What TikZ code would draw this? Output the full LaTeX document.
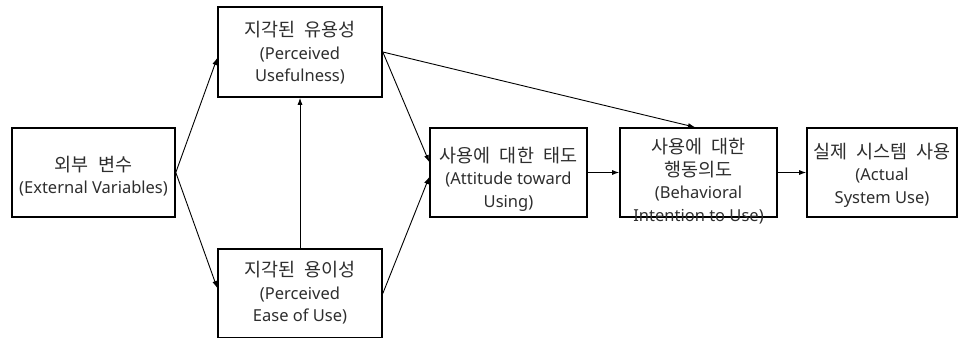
\documentclass[tikz,border=0pt]{standalone}
\usepackage{fontspec}
\setmainfont{Noto Sans}
\newfontfamily\krfont{Noto Sans CJK KR}
\usetikzlibrary{arrows.meta}
\newcommand\kr[1]{{\krfont\fontsize{18.5}{22.5}\selectfont\spaceskip=0.5em\relax #1}}
\tikzset{
  boxnode/.style={draw=black, line width=1.6pt, inner sep=0pt, fill=white},
  txt/.style={align=center, inner sep=0pt, text=black!82, font=\fontsize{16.5}{22.5}\selectfont},
  conn/.style={line width=0.9pt, -{Latex[length=7pt,width=5pt]}}
}
\begin{document}
\begin{tikzpicture}[x=1pt,y=-1pt]
\useasboundingbox (0,0) rectangle (960,337);
% boxes
\node[boxnode, minimum width=163pt, minimum height=89pt] (ext) at (93.5,172.5) {};
\node[boxnode, minimum width=164pt, minimum height=90pt] (pu) at (300,52) {};
\node[boxnode, minimum width=164pt, minimum height=89pt] (peou) at (300,293.5) {};
\node[boxnode, minimum width=157pt, minimum height=89pt] (atu) at (508.5,172.5) {};
\node[boxnode, minimum width=157pt, minimum height=89pt] (bi) at (698.5,172.5) {};
\node[boxnode, minimum width=150pt, minimum height=89pt] (asu) at (882,172.5) {};
% texts
\node[txt] (extT) at (93.5,176) {\kr{외부 변수}\\(External Variables)};
\node[txt] (puT) at (300,53) {\kr{지각된 유용성}\\(Perceived\\Usefulness)};
\node[txt] (peouT) at (300,293) {\kr{지각된 용이성}\\(Perceived\\Ease of Use)};
\node[txt] (atuT) at (508.5,179) {\kr{사용에 대한 태도}\\(Attitude toward\\Using)};
\node[txt] (biT) at (698.5,181) {\kr{사용에 대한}\\\kr{행동의도}\\(Behavioral\\Intention to Use)};
\node[txt] (asuT) at (882,175) {\kr{실제 시스템 사용}\\(Actual\\System Use)};
% connectors
\draw[conn] (ext.east) -- ([yshift=-6pt]pu.west);
\draw[conn] (ext.east) -- ([yshift=5.5pt]peou.west);
\draw[conn] (peou.north) -- (pu.south);
\draw[conn] (pu.east) -- ([yshift=10.5pt]atu.west);
\draw[conn] (peou.east) -- ([yshift=-4.5pt]atu.west);
\draw[conn] (pu.east) -- ([xshift=-3.5pt]bi.north);
\draw[conn] (atu.east) -- (bi.west);
\draw[conn] (bi.east) -- (asu.west);
\end{tikzpicture}
\end{document}
